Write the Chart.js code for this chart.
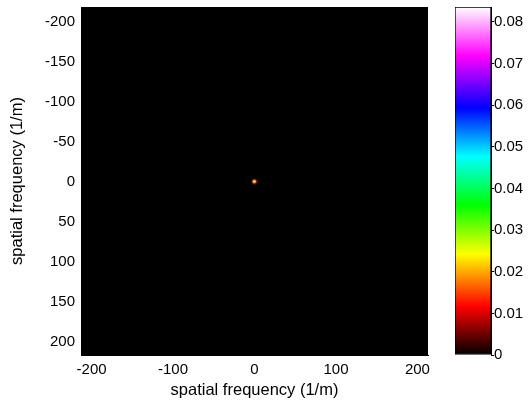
<!DOCTYPE html>
<html>
<head>
<meta charset="utf-8">
<script src="https://cdn.jsdelivr.net/npm/chart.js@4/dist/chart.umd.min.js"></script>
<style>
  html, body { margin: 0; padding: 0; background: #fff; }
  #wrap { position: relative; width: 529px; height: 409px; }
  #mainBox { position: absolute; left: 0; top: 0; width: 440px; height: 409px; }
  #barBox { position: absolute; left: 440px; top: 0; width: 89px; height: 409px; }
</style>
</head>
<body>
<div id="wrap">
  <div id="mainBox"><canvas id="mainChart"></canvas></div>
  <div id="barBox"><canvas id="colorBar"></canvas></div>
</div>
<script>
// spectrum data: only the bright spot at the origin, everything else is ~0
var cellX = [-3, -1.8, -0.6, 0.6, 1.8, 3];
var cellY = [-3, -1.8, -0.6, 0.6, 1.8, 3];
var spotValues = [
  [0.001, 0.003, 0.005, 0.005, 0.003, 0.001],
  [0.003, 0.012, 0.022, 0.022, 0.012, 0.003],
  [0.005, 0.022, 0.083, 0.083, 0.022, 0.005],
  [0.005, 0.022, 0.083, 0.083, 0.022, 0.005],
  [0.003, 0.012, 0.022, 0.022, 0.012, 0.003],
  [0.001, 0.003, 0.005, 0.005, 0.003, 0.001]
];
var xTicks = [-200, -100, 0, 100, 200];
var yTicks = [-200, -150, -100, -50, 0, 50, 100, 150, 200];
var xRange = [-213, 213];
var yRange = [-218.5, 216.5];
var colorMin = 0;
var colorMax = 0.0836;
var colorTicks = [0, 0.01, 0.02, 0.03, 0.04, 0.05, 0.06, 0.07, 0.08];
var cellSize = 1.2;

// colormap: black - red - yellow - green - cyan - blue - magenta - white
var cmapStops = [
  [0.00, [0, 0, 0]],
  [0.14, [255, 0, 0]],
  [0.29, [255, 255, 0]],
  [0.43, [0, 255, 0]],
  [0.57, [0, 255, 255]],
  [0.71, [0, 0, 255]],
  [0.86, [255, 0, 255]],
  [1.00, [255, 255, 255]]
];

function colorFor(v) {
  var t = (v - colorMin) / (colorMax - colorMin);
  t = Math.max(0, Math.min(1, t));
  for (var i = 1; i < cmapStops.length; i++) {
    if (t <= cmapStops[i][0]) {
      var a = cmapStops[i - 1], b = cmapStops[i];
      var f = (t - a[0]) / (b[0] - a[0]);
      var c = a[1].map(function (x, k) { return Math.round(x + (b[1][k] - x) * f); });
      return "rgb(" + c.join(",") + ")";
    }
  }
  return "rgb(255,255,255)";
}

var FONT = { family: "'Liberation Sans', Arial, sans-serif", size: 15 };
var TITLE_FONT = { family: "'Liberation Sans', Arial, sans-serif", size: 16.5 };
Chart.defaults.color = "#000";

// build the point list from the arrays
var points = [];
var pointColors = [];
for (var r = 0; r < cellY.length; r++) {
  for (var c = 0; c < cellX.length; c++) {
    points.push({ x: cellX[c], y: cellY[r] });
    pointColors.push(colorFor(spotValues[r][c]));
  }
}

var blackArea = {
  id: "blackArea",
  beforeDatasetsDraw: function (chart) {
    var a = chart.chartArea, ctx = chart.ctx;
    ctx.save();
    ctx.fillStyle = "#000";
    ctx.fillRect(a.left, a.top, a.right - a.left, a.bottom - a.top);
    ctx.restore();
  }
};

function setTicks(list) {
  return function (scale) {
    scale.ticks = list.map(function (v) { return { value: v }; });
  };
}

function fixSize(w, h) {
  return function (s) {
    if (w) s.width = w;
    if (h) s.height = h;
    s.paddingTop = 0; s.paddingBottom = 0;
    s.paddingLeft = 0; s.paddingRight = 0;
  };
}

var mainChart = new Chart(document.getElementById("mainChart").getContext("2d"), {
  type: "scatter",
  data: {
    datasets: [{
      data: points,
      pointStyle: "rect",
      backgroundColor: pointColors,
      borderWidth: 0,
      pointRadius: function (ctx) {
        var xs = ctx.chart.scales.x;
        var px = Math.abs(xs.getPixelForValue(cellSize) - xs.getPixelForValue(0));
        return px / Math.SQRT2 + 0.15;
      },
      pointHoverRadius: 1
    }]
  },
  options: {
    responsive: true,
    maintainAspectRatio: false,
    animation: false,
    events: [],
    layout: { padding: { left: 0, top: 7, right: 12, bottom: 0 } },
    plugins: { legend: { display: false }, tooltip: { enabled: false } },
    scales: {
      x: {
        type: "linear",
        min: xRange[0],
        max: xRange[1],
        afterBuildTicks: setTicks(xTicks),
        afterFit: fixSize(0, 54),
        grid: { display: false, drawTicks: false },
        border: { display: true, color: "#000" },
        ticks: { font: FONT, padding: 6, maxRotation: 0, autoSkip: false },
        title: { display: true, text: "spatial frequency (1/m)", font: TITLE_FONT, padding: { top: 0, bottom: 9 } }
      },
      y: {
        type: "linear",
        reverse: true,
        min: yRange[0],
        max: yRange[1],
        afterBuildTicks: setTicks(yTicks),
        afterFit: fixSize(81, 0),
        grid: { display: false, drawTicks: false },
        border: { display: true, color: "#000" },
        ticks: { font: FONT, padding: 6, autoSkip: false },
        title: { display: true, text: "spatial frequency (1/m)", font: TITLE_FONT, padding: { top: 8, bottom: 0 } }
      }
    }
  },
  plugins: [blackArea]
});

// colour bar: one bar from colorMin to colorMax filled with the colormap
var colorBar = new Chart(document.getElementById("colorBar").getContext("2d"), {
  type: "bar",
  data: {
    labels: ["c"],
    datasets: [{
      data: [colorMax],
      borderColor: "#000",
      borderWidth: 1,
      borderSkipped: false,
      barPercentage: 1,
      categoryPercentage: 1,
      backgroundColor: function (ctx) {
        var chart = ctx.chart;
        if (!chart.chartArea) return "#000";
        var ys = chart.scales.y;
        var g = chart.ctx.createLinearGradient(0, ys.getPixelForValue(colorMin), 0, ys.getPixelForValue(colorMax));
        cmapStops.forEach(function (s) {
          g.addColorStop(s[0], "rgb(" + s[1].join(",") + ")");
        });
        return g;
      }
    }]
  },
  options: {
    responsive: true,
    maintainAspectRatio: false,
    animation: false,
    events: [],
    layout: { padding: { left: 15, top: 7, right: 0, bottom: 54 } },
    plugins: { legend: { display: false }, tooltip: { enabled: false } },
    scales: {
      x: { display: false },
      y: {
        position: "right",
        min: colorMin,
        max: colorMax,
        afterBuildTicks: setTicks(colorTicks),
        afterFit: fixSize(38, 0),
        grid: { drawOnChartArea: false, drawTicks: true, tickLength: 3, color: "#000" },
        border: { display: true, color: "#000" },
        ticks: {
          font: FONT,
          padding: 0,
          autoSkip: false,
          callback: function (v) { return String(Number(v.toFixed(2))); }
        }
      }
    }
  }
});
</script>
</body>
</html>
